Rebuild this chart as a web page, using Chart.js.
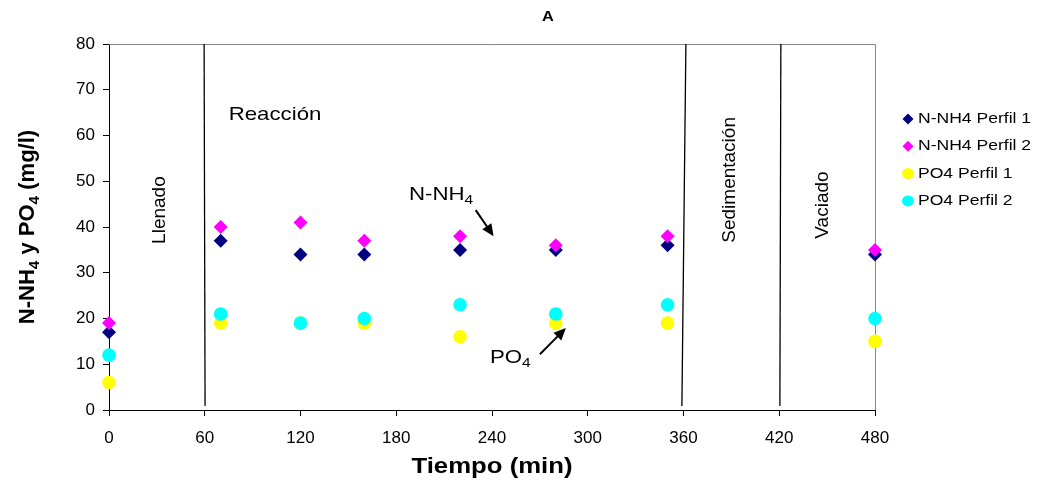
<!DOCTYPE html>
<html>
<head>
<meta charset="utf-8">
<script src="https://cdn.jsdelivr.net/npm/chart.js@4/dist/chart.umd.min.js"></script>
<style>
  html, body { margin: 0; padding: 0; background: #fff; }
  #wrap { width: 1044px; height: 487px; }
</style>
</head>
<body>
<div id="wrap"><canvas id="chart"></canvas></div>
<script>
// Tiempo (min) of each sample
const tiempos = [0, 70, 120, 160, 220, 280, 350, 480];

// Concentrations (mg/l)
const nh4Perfil1 = [17, 37, 34, 34, 35, 35, 36, 34];
const nh4Perfil2 = [19, 40, 41, 37, 38, 36, 38, 35];
const po4Perfil1 = [6, 19, 19, 19, 16, 19, 19, 15];
const po4Perfil2 = [12, 21, 19, 20, 23, 21, 23, 20];

// Phase boundaries (top/bottom of each hand-drawn line, in minutes)
const faseTop = [59.6, 361.5, 421];
const faseBottom = [60.2, 359, 420.4];

const FONT = '"Liberation Sans", Arial, sans-serif';
const SX = 1.17; // the original image is a bit wider than tall

function toPoints(xs, ys) {
    return xs.map(function(x, i) { return { x: x, y: ys[i] }; });
}

const series = [
    { label: 'N-NH4 Perfil 1', data: nh4Perfil1, color: '#000080', style: 'rectRot', r: 7 },
    { label: 'N-NH4 Perfil 2', data: nh4Perfil2, color: '#FF00FF', style: 'rectRot', r: 7 },
    { label: 'PO4 Perfil 1', data: po4Perfil1, color: '#FFFF00', style: 'circle', r: 6.8 },
    { label: 'PO4 Perfil 2', data: po4Perfil2, color: '#00FFFF', style: 'circle', r: 6.8 }
];

const datasets = [];
faseTop.forEach(function(t, i) {
    datasets.push({
        label: 'fase' + i,
        data: [{ x: t, y: 80 }, { x: faseBottom[i], y: 0.9 }],
        showLine: true,
        borderColor: '#000',
        borderWidth: 1.3,
        pointRadius: 0,
        clip: false,
        order: 10
    });
});
series.forEach(function(s, i) {
    datasets.push({
        label: s.label,
        data: toPoints(tiempos, s.data),
        pointStyle: s.style,
        pointRadius: s.r,
        pointBackgroundColor: s.color,
        pointBorderColor: s.color,
        pointBorderWidth: 0,
        showLine: false,
        clip: false,
        order: series.length - i
    });
});

// horizontally stretched text, with optional subscript parts
function sText(ctx, parts, x, y, size, bold, align, stretch) {
    const k = stretch || SX;
    const fnt = function(p) { return (bold ? 'bold ' : '') + (p.sub ? size * 0.7 : size) + 'px ' + FONT; };
    const w = parts.reduce(function(acc, p) {
        ctx.font = fnt(p);
        return acc + ctx.measureText(p.t).width;
    }, 0);
    ctx.save();
    ctx.translate(x, y);
    ctx.scale(k, 1);
    let cx = align === 'center' ? -w / 2 : 0;
    ctx.textAlign = 'left';
    ctx.textBaseline = 'middle';
    parts.forEach(function(p) {
        ctx.font = fnt(p);
        ctx.fillText(p.t, cx, p.sub ? size * 0.3 : 0);
        cx += ctx.measureText(p.t).width;
    });
    ctx.restore();
}

function arrow(ctx, x1, y1, x2, y2) {
    const a = Math.atan2(y2 - y1, x2 - x1);
    const L = 12, W = 5.5;
    ctx.strokeStyle = '#000';
    ctx.lineWidth = 2;
    ctx.beginPath();
    ctx.moveTo(x1, y1);
    ctx.lineTo(x2 - L * Math.cos(a) * 0.8, y2 - L * Math.sin(a) * 0.8);
    ctx.stroke();
    ctx.fillStyle = '#000';
    ctx.beginPath();
    ctx.moveTo(x2, y2);
    ctx.lineTo(x2 - L * Math.cos(a) + W * Math.sin(a), y2 - L * Math.sin(a) - W * Math.cos(a));
    ctx.lineTo(x2 - L * Math.cos(a) - W * Math.sin(a), y2 - L * Math.sin(a) + W * Math.cos(a));
    ctx.closePath();
    ctx.fill();
}

const decor = {
    id: 'decor',
    beforeDatasetsDraw: function(chart) {
        const ctx = chart.ctx, a = chart.chartArea;
        ctx.save();
        ctx.strokeStyle = '#888';
        ctx.lineWidth = 1;
        ctx.beginPath();
        ctx.moveTo(a.left, a.top + 0.5);
        ctx.lineTo(a.right + 0.5, a.top + 0.5);
        ctx.lineTo(a.right + 0.5, a.bottom);
        ctx.stroke();
        ctx.restore();
    },
    afterDraw: function(chart) {
        const ctx = chart.ctx, a = chart.chartArea;
        const xs = chart.scales.x, ys = chart.scales.y;
        const px = function(v) { return xs.getPixelForValue(v); };
        const py = function(v) { return ys.getPixelForValue(v); };
        ctx.save();
        ctx.fillStyle = '#000';

        // chart title
        sText(ctx, [{ t: 'A' }], 548, 17, 14, true, 'center');

        // axis titles
        sText(ctx, [{ t: 'Tiempo (min)' }], (a.left + a.right) / 2, 467, 22, true, 'center');
        ctx.save();
        ctx.translate(28, (a.top + a.bottom) / 2);
        ctx.rotate(-Math.PI / 2);
        sText(ctx, [{ t: 'N-NH' }, { t: '4', sub: true }, { t: ' y PO' }, { t: '4', sub: true }, { t: ' (mg/l)' }], 0, 0, 22, true, 'center', 1);
        ctx.restore();

        // phase labels
        sText(ctx, [{ t: 'Reacción' }], px(75), py(64.5), 19, false, 'left');
        [['Llenado', 32, 43.7], ['Sedimentación', 389, 50.3], ['Vaciado', 447, 44.8]].forEach(function(l) {
            ctx.save();
            ctx.translate(px(l[1]), py(l[2]));
            ctx.rotate(-Math.PI / 2);
            sText(ctx, [{ t: l[0] }], 0, 0, 19, false, 'center', 1);
            ctx.restore();
        });

        // species labels and arrows
        sText(ctx, [{ t: 'N-NH' }, { t: '4', sub: true }], px(188), py(47), 19, false, 'left');
        arrow(ctx, px(229.8), py(43.7), px(241), py(38));
        sText(ctx, [{ t: 'PO' }, { t: '4', sub: true }], px(238.7), py(11.4), 19, false, 'left');
        arrow(ctx, px(270), py(12.2), px(286.3), py(17.9));

        // legend
        series.forEach(function(s, i) {
            const y = 119 + i * 27.3;
            ctx.fillStyle = s.color;
            ctx.beginPath();
            if (s.style === 'circle') {
                ctx.ellipse(908, y, 6, 5.5, 0, 0, Math.PI * 2);
            } else {
                ctx.moveTo(908, y - 5.5); ctx.lineTo(913.5, y); ctx.lineTo(908, y + 5.5); ctx.lineTo(902.5, y);
            }
            ctx.fill();
            ctx.fillStyle = '#000';
            sText(ctx, [{ t: s.label }], 918, y, 15, false, 'left');
        });
        ctx.restore();
    }
};

new Chart(document.getElementById('chart'), {
    type: 'scatter',
    data: { datasets: datasets },
    options: {
        responsive: true,
        maintainAspectRatio: false,
        animation: false,
        layout: { padding: { top: 44, right: 169, bottom: 0, left: 0 } },
        plugins: {
            legend: { display: false },
            tooltip: { enabled: false }
        },
        scales: {
            x: {
                type: 'linear',
                min: 0,
                max: 480,
                afterFit: function(scale) { scale.height = 77; },
                ticks: { stepSize: 60, color: '#000', padding: 12, font: { family: FONT, size: 17 }, maxRotation: 0 },
                grid: { drawOnChartArea: false, tickLength: 6, color: '#000' },
                border: { color: '#000', width: 1 }
            },
            y: {
                min: 0,
                max: 80,
                afterFit: function(scale) { scale.width = 109; },
                ticks: { stepSize: 10, color: '#000', padding: 8, font: { family: FONT, size: 17 } },
                grid: { drawOnChartArea: false, tickLength: 6, color: '#000' },
                border: { color: '#000', width: 1 }
            }
        }
    },
    plugins: [decor]
});
</script>
</body>
</html>
